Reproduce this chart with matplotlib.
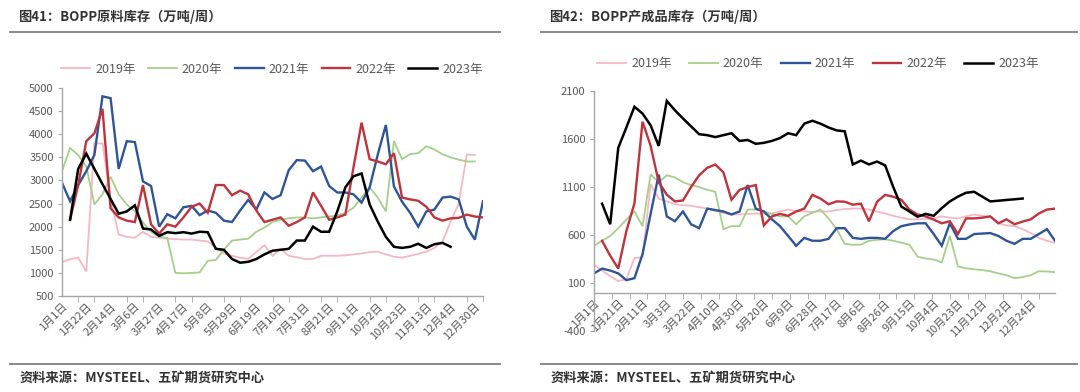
import numpy as np
import matplotlib
matplotlib.use('Agg')
import matplotlib.pyplot as plt
from matplotlib.lines import Line2D

plt.rcParams['font.family'] = ['Noto Sans CJK SC', 'DejaVu Sans']
plt.rcParams['axes.unicode_minus'] = False

nan = np.nan

# 图41：BOPP原料库存（万吨/周）, weekly, 53 slots
raw_labels = ['1月1日', '1月22日', '2月14日', '3月6日', '3月27日', '4月17日', '5月8日',
              '5月29日', '6月19日', '7月10日', '7月31日', '8月21日', '9月11日', '10月2日',
              '10月23日', '11月13日', '12月4日', '12月30日']
raw_2019 = [1230, 1300, 1330, 1030, 3800, 3800, 2600, 1830, 1780, 1760, 1890, 1780, 1760,
            1740, 1730, 1720, 1720, 1700, 1680, 1550, 1420, 1370, 1330, 1300, 1450, 1600,
            1370, 1520, 1370, 1340, 1300, 1300, 1370, 1370, 1370, 1380, 1400, 1420, 1450,
            1460, 1400, 1350, 1330, 1370, 1410, 1460, 1540, 1670, 2110, 2500, 3560, 3550]
raw_2020 = [3200, 3700, 3550, 3300, 2480, 2700, 3080, 2700, 2480, 2330, 2090, 1890, 1780,
            1760, 1000, 990, 1000, 1010, 1260, 1280, 1500, 1700, 1720, 1740, 1890, 1980,
            2100, 2150, 2180, 2200, 2200, 2180, 2200, 2220, 2240, 2300, 2410, 2630, 2850,
            2630, 2330, 3850, 3460, 3570, 3590, 3740, 3670, 3565, 3500, 3450, 3410, 3410]
raw_2021 = [2950, 2550, 2900, 3200, 3550, 4820, 4780, 3250, 3850, 3830, 2980, 2880, 2000,
            2270, 2180, 2420, 2450, 2250, 2350, 2300, 2130, 2100, 2350, 2580, 2370, 2740,
            2600, 2680, 3220, 3440, 3430, 3200, 3300, 2880, 2740, 2740, 2700, 2520, 2850,
            3560, 4200, 2870, 2540, 2300, 2000, 2330, 2370, 2630, 2650, 2590, 2000, 1720, 2550]
raw_2022 = [nan, 2150, 2900, 3850, 4020, 4550, 2400, 2200, 2130, 2100, 2900, 2050, 1850,
            2050, 2000, 2200, 2430, 2500, 2300, 2900, 2900, 2680, 2780, 2700, 2350, 2100,
            2150, 2200, 2020, 2100, 2200, 2740, 2450, 2150, 2200, 2260, 3280, 4250, 3460,
            3410, 3350, 3590, 2630, 2590, 2560, 2430, 2200, 2130, 2180, 2190, 2260, 2220, 2200]
raw_2023 = [nan, 2150, 3250, 3580, 3250, 2920, 2600, 2280, 2330, 2460, 1960, 1940, 1800,
            1880, 1860, 1880, 1850, 1890, 1880, 1520, 1500, 1300, 1220, 1240, 1300, 1400,
            1480, 1500, 1520, 1700, 1700, 2000, 1890, 1890, 2330, 2850, 3090, 3150, 2480,
            2110, 1780, 1565, 1540, 1565, 1630, 1540, 1620, 1650, 1565]

# 图42：BOPP产成品库存（万吨/周）, weekly, 58 slots
fin_labels = ['1月1日', '1月21日', '2月11日', '3月3日', '3月22日', '4月10日', '4月30日',
              '5月20日', '6月9日', '6月28日', '7月17日', '8月6日', '8月26日', '9月15日',
              '10月4日', '10月23日', '11月12日', '12月2日', '12月24日']
fin_2019 = [290, 230, 170, 120, 140, 360, 370, 1130, 980, 950, 920, 910, 905, 890, 875,
            850, 830, 814, 814, 820, 824, 820, 824, 845, 865, 850, 845, 840, 845, 845, 860,
            870, 875, 875, 865, 845, 824, 800, 780, 763, 763, 770, 773, 794, 780, 773, 794,
            814, 800, 790, 722, 700, 692, 661, 620, 570, 540, 518]
fin_2020 = [488, 540, 590, 671, 760, 845, 692, 1232, 1150, 1222, 1200, 1150, 1120, 1100,
            1070, 1050, 661, 692, 692, 865, 865, 845, 820, 794, 794, 712, 794, 830, 865,
            773, 661, 508, 498, 500, 540, 550, 555, 540, 520, 498, 375, 355, 345, 314, 590,
            273, 253, 243, 235, 222, 200, 182, 151, 161, 182, 222, 220, 212]
fin_2021 = [200, 250, 230, 200, 130, 150, 400, 820, 1230, 794, 743, 845, 712, 671, 875,
            860, 845, 814, 845, 1120, 875, 845, 763, 692, 590, 488, 570, 540, 540, 560, 671,
            671, 570, 560, 570, 570, 560, 641, 692, 710, 722, 722, 610, 488, 722, 560, 560,
            610, 615, 620, 590, 540, 508, 560, 560, 610, 661, 540]
fin_2022 = [nan, 540, 385, 250, 640, 930, 1780, 1530, 1150, 1020, 950, 960, 1100, 1222,
            1300, 1334, 1253, 967, 1070, 1100, 1120, 700, 794, 820, 800, 845, 875, 1018, 980,
            920, 950, 947, 916, 926, 743, 947, 1018, 998, 967, 865, 814, 794, 760, 722, 743,
            610, 773, 773, 780, 794, 722, 763, 712, 740, 763, 824, 865, 875]
fin_2023 = [nan, 926, 712, 1508, 1720, 1936, 1865, 1742, 1528, 1997, 1900, 1814, 1732,
            1650, 1640, 1620, 1640, 1660, 1580, 1590, 1550, 1560, 1580, 1610, 1660, 1640,
            1760, 1790, 1760, 1720, 1690, 1680, 1335, 1375, 1335, 1365, 1325, 1100, 896, 845,
            790, 820, 800, 880, 950, 1000, 1040, 1050, 1000, 950, 957, 965, 972, 980]

years = ['2019年', '2020年', '2021年', '2022年', '2023年']
colors = ['#f4b8c4', '#a5cf8a', '#2f5597', '#bf333d', '#000000']
widths = [1.3, 1.3, 1.7, 1.7, 1.8]

grey = '#595959'
axis_grey = '#a6a6a6'

fig = plt.figure(figsize=(10.8, 3.92), dpi=100)
W, H = 1080, 392


def style_axis(ax):
    for s in ['top', 'right']:
        ax.spines[s].set_visible(False)
    for s in ['left', 'bottom']:
        ax.spines[s].set_color(axis_grey)
        ax.spines[s].set_linewidth(1)
    ax.tick_params(axis='y', labelsize=8, colors=grey, length=3, color=axis_grey, pad=3)
    ax.tick_params(axis='x', which='major', labelsize=8, colors=grey, length=0, pad=4)
    ax.tick_params(axis='x', which='minor', length=4, color=axis_grey)
    for lab in ax.get_xticklabels():
        lab.set_rotation(45)
        lab.set_rotation_mode('anchor')
        lab.set_ha('right')
        lab.set_va('top')


# ---- left chart
ax1 = fig.add_axes([62 / W, (H - 296) / H, 421 / W, 208 / H])
n1 = 53
for vals, yr, c, lw in zip([raw_2019, raw_2020, raw_2021, raw_2022, raw_2023], years, colors, widths):
    y = np.full(n1, nan)
    y[:len(vals)] = vals
    ax1.plot(np.arange(n1), y, color=c, lw=lw, label=yr, solid_joinstyle='miter')
ax1.set_xlim(0, n1 - 1)
ax1.set_ylim(500, 5000)
ax1.set_yticks(np.arange(500, 5001, 500))
ax1.set_xticks(np.arange(0, len(raw_labels) * 3, 3))
ax1.set_xticklabels(raw_labels)
ax1.set_xticks(np.arange(0, n1, 2), minor=True)
style_axis(ax1)

# ---- right chart
ax2 = fig.add_axes([594 / W, (H - 331) / H, 461 / W, 240 / H])
n2 = 58
for vals, yr, c, lw in zip([fin_2019, fin_2020, fin_2021, fin_2022, fin_2023], years, colors, widths):
    y = np.full(n2, nan)
    y[:len(vals)] = vals
    ax2.plot(np.arange(n2), y, color=c, lw=lw, label=yr, solid_joinstyle='miter')
ax2.set_xlim(0, n2 - 1)
ax2.set_ylim(-400, 2100)
ax2.set_yticks(np.arange(-400, 2101, 500))
ax2.spines['bottom'].set_position(('data', 0))
ax2.set_xticks(np.arange(0, len(fin_labels) * 3, 3))
ax2.set_xticklabels(fin_labels)
ax2.set_xticks(np.arange(0, n2 - 1, 2.2), minor=True)
style_axis(ax2)

# legends
for ax, ypix, xpix, cs in [(ax1, 69, 272, 1.0), (ax2, 64, 818, 1.4)]:
    leg = fig.legend(*ax.get_legend_handles_labels(), loc='center', ncol=5,
                     bbox_to_anchor=(xpix / W, 1 - ypix / H), frameon=False,
                     fontsize=9, handlelength=2.3, handletextpad=0.4, columnspacing=cs)
    for t in leg.get_texts():
        t.set_color(grey)

# titles, rules and sources
for x0, x1, tx, title in [(10, 500, 18, '图41：BOPP原料库存（万吨/周）'),
                          (541, 1077, 549, '图42：BOPP产成品库存（万吨/周）')]:
    fig.text(tx / W, 1 - 17 / H, title, fontsize=9.5, color='#333333', va='center', weight='bold')
    fig.add_artist(Line2D([x0 / W, x1 / W], [1 - 32 / H] * 2, color='#7f7f7f', lw=1.3))
    fig.add_artist(Line2D([x0 / W, x1 / W], [1 - 364 / H] * 2, color='#7f7f7f', lw=1.3))
    fig.text(tx / W + 2 / W, 1 - 378 / H, '资料来源：MYSTEEL、五矿期货研究中心', fontsize=9.5,
             color='#333333', va='center', weight='bold')

fig.savefig('out.png', dpi=100)
